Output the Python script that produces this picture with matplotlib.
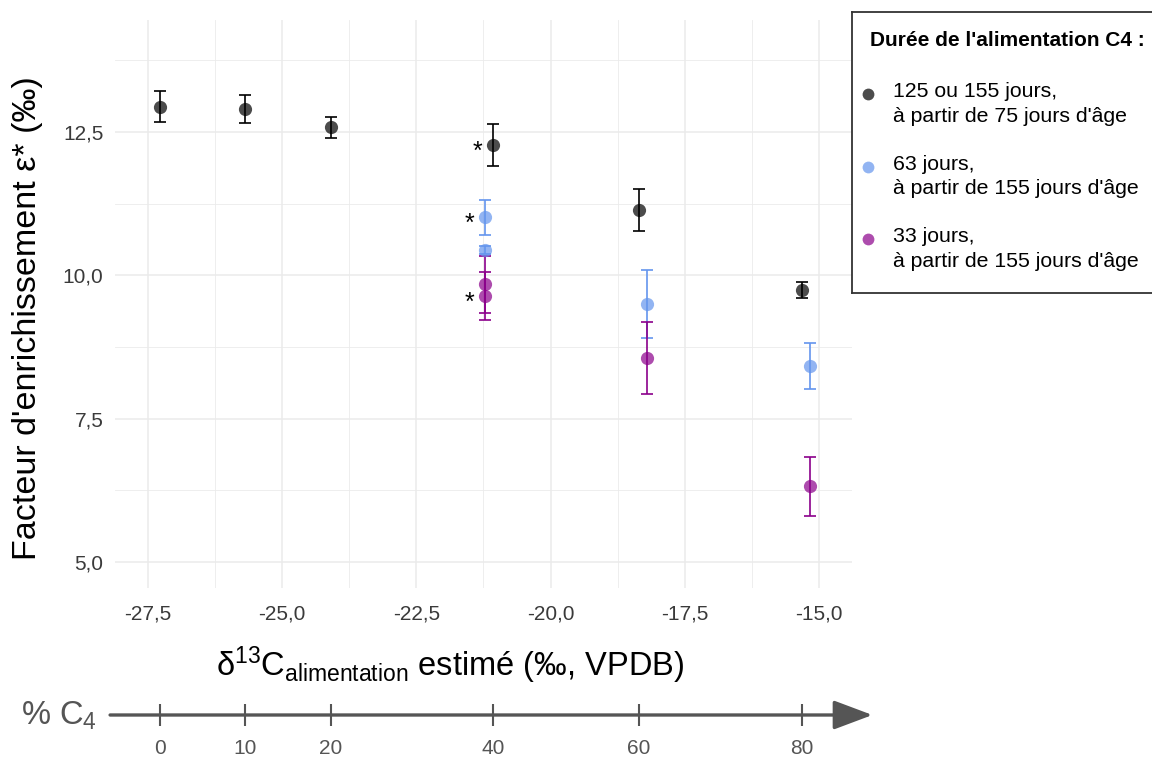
import matplotlib
matplotlib.use('Agg')
import matplotlib.pyplot as plt
from matplotlib.ticker import FixedLocator, FuncFormatter

# Valeurs (delta13C alimentation, epsilon*, erreur)
x_noir = [-27.28, -25.69, -24.10, -21.07, -18.35, -15.32]
y_noir = [12.94, 12.90, 12.58, 12.27, 11.14, 9.75]
err_noir = [0.27, 0.25, 0.18, 0.36, 0.36, 0.14]

x_bleu = [-21.23, -21.23, -18.20, -15.17]
y_bleu = [11.01, 10.44, 9.50, 8.42]
err_bleu = [0.31, 0.07, 0.60, 0.40]

x_violet = [-21.23, -21.23, -18.20, -15.17]
y_violet = [9.84, 9.64, 8.56, 6.32]
err_violet = [0.50, 0.42, 0.62, 0.51]

# points marques d'une etoile (serie, indice)
etoiles = [('noir', 3), ('bleu', 0), ('violet', 1)]

# axe % C4 : graduations placees sur les points noirs
pct_c4 = [0, 10, 20, 40, 60, 80]

legende = ["125 ou 155 jours,\nà partir de 75 jours d'âge",
           "63 jours,\nà partir de 155 jours d'âge",
           "33 jours,\nà partir de 155 jours d'âge"]

SANS = ['Liberation Sans', 'DejaVu Sans']
plt.rcParams['font.family'] = SANS

series = {
    'noir': (x_noir, y_noir, err_noir, 'black'),
    'bleu': (x_bleu, y_bleu, err_bleu, 'cornflowerblue'),
    'violet': (x_violet, y_violet, err_violet, 'darkmagenta'),
}

fig = plt.figure(figsize=(11.52, 7.6), dpi=100)
ax = fig.add_axes([0.0994, 0.2263, 0.6406, 0.7474])
ax.set_xlim(-28.125, -14.375)
ax.set_ylim(4.55, 14.45)

ax.xaxis.set_major_locator(FixedLocator([-27.5, -25, -22.5, -20, -17.5, -15]))
ax.xaxis.set_minor_locator(FixedLocator([-26.25, -23.75, -21.25, -18.75, -16.25]))
ax.yaxis.set_major_locator(FixedLocator([5, 7.5, 10, 12.5]))
ax.yaxis.set_minor_locator(FixedLocator([6.25, 8.75, 11.25, 13.75]))
virgule = FuncFormatter(lambda v, p: ('%.1f' % v).replace('.', ','))
ax.xaxis.set_major_formatter(virgule)
ax.yaxis.set_major_formatter(virgule)
ax.grid(which='major', color='#ebebeb', lw=1.1)
ax.grid(which='minor', color='#ebebeb', lw=0.6)
ax.set_axisbelow(True)
for s in ax.spines.values():
    s.set_visible(False)
ax.tick_params(which='both', length=0)
ax.tick_params(axis='y', pad=8, labelsize=15, labelcolor='#3a3a3a')
ax.tick_params(axis='x', pad=12, labelsize=15, labelcolor='#3a3a3a')

for nom, (xs, ys, es, c) in series.items():
    ax.errorbar(xs, ys, yerr=es, fmt='none', ecolor=c, elinewidth=1.2,
                capsize=4.2, capthick=1.2, zorder=3)
    ax.plot(xs, ys, 'o', ms=9.5, color=c, alpha=0.7, mew=0, zorder=4)

for nom, i in etoiles:
    xs, ys = series[nom][0], series[nom][1]
    ax.annotate('*', (xs[i], ys[i]), xytext=(-11, -5), textcoords='offset points',
                ha='center', va='center', fontsize=18)

# titres
fig.text(28 / 1152, 1 - 318 / 760, "Facteur d'enrichissement ε* (‰)", rotation=90,
         ha='center', va='center', fontsize=24.5)
fig.text(450 / 1152, 1 - 665 / 760,
         '$\\mathregular{δ^{13}C_{alimentation}}$ estimé (‰, VPDB)',
         ha='center', va='center', fontsize=23.5)

# axe % C4
ax2 = fig.add_axes([0.0994, 1 - 735 / 760, 0.6406, 40 / 760], sharex=ax)
ax2.set_ylim(-1, 1)
ax2.axis('off')
ax2.annotate('', xy=(1.027, 0.5), xytext=(-0.006, 0.5), xycoords='axes fraction',
             arrowprops=dict(arrowstyle='-|>,head_length=1.2,head_width=0.45',
                             color='#555555', lw=2.4, mutation_scale=20,
                             shrinkA=0, shrinkB=0))
ax2.vlines(x_noir, -0.55, 0.55, color='#555555', lw=1.5)
for xv, p in zip(x_noir, pct_c4):
    ax2.text(xv, -1.7, str(p), ha='center', va='center', fontsize=15,
             color='#555555', clip_on=False)
ax2.set_xlim(-28.125, -14.375)
fig.text(21 / 1152, 1 - 716 / 760, '% C$_\\mathregular{4}$', ha='left', va='center',
         fontsize=23.5, color='#555555')

# legende
lax = fig.add_axes([852 / 1152, 1 - 293 / 760, 320 / 1152, 281 / 760])
lax.set_xlim(0, 320)
lax.set_ylim(281, 0)
lax.set_xticks([])
lax.set_yticks([])
for s in lax.spines.values():
    s.set_color('#333333')
    s.set_linewidth(1.3)
lax.text(18, 29, "Durée de l'alimentation C4 :", fontsize=15, fontweight='bold',
         ha='left', va='center')
for k, (nom, texte) in enumerate(zip(['noir', 'bleu', 'violet'], legende)):
    yk = 82 + 72.5 * k
    lax.plot([16], [yk], 'o', ms=8.5, color=series[nom][3], alpha=0.7, mew=0)
    lax.text(41, yk - 12, texte, fontsize=15.3, ha='left', va='top', linespacing=1.4)

plt.savefig('out.png', dpi=100)
